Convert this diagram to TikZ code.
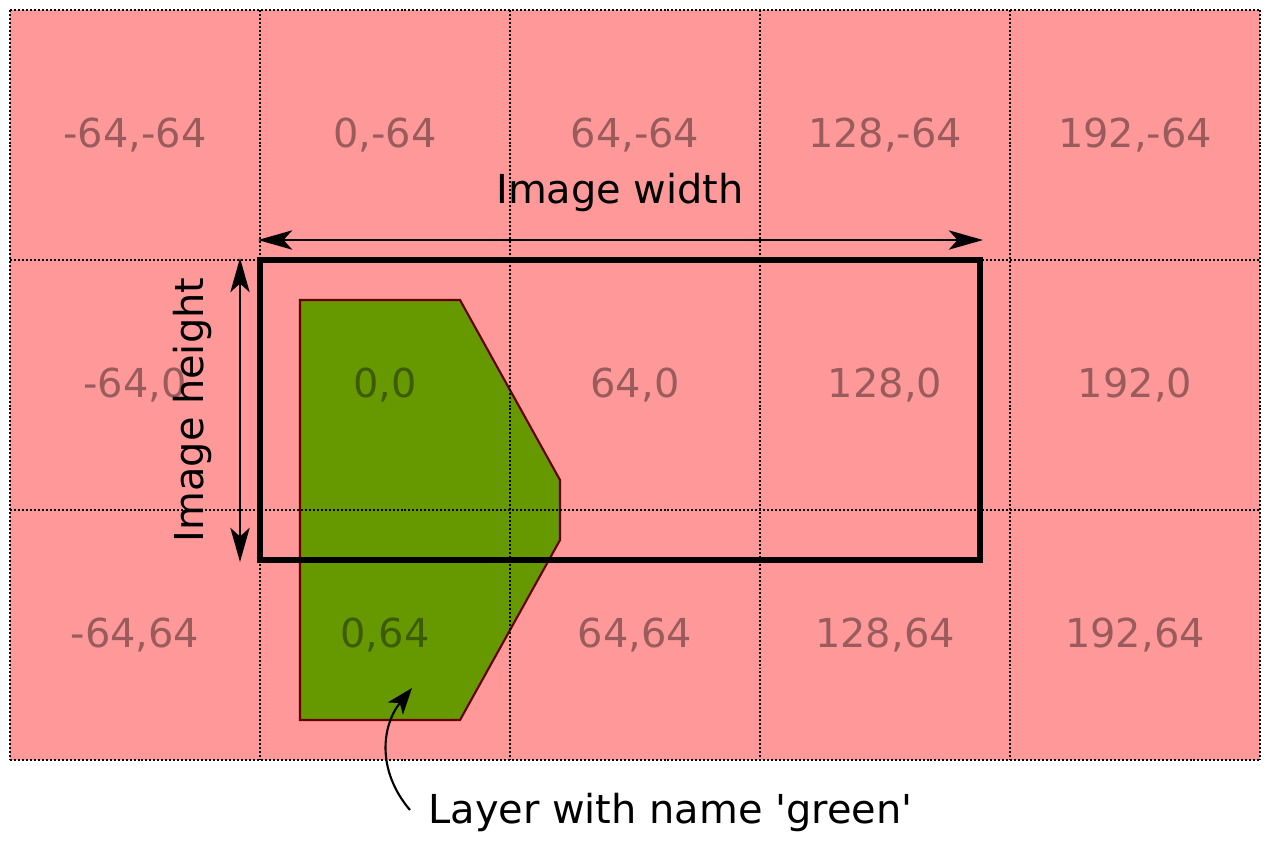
\documentclass[tikz,border=0pt]{standalone}
\usepackage{fontspec}
\setmainfont{DejaVu Sans}[Ligatures=TeXOff]
\usetikzlibrary{arrows.meta}
\definecolor{cellpink}{HTML}{FF9999}
\definecolor{layergreen}{HTML}{669900}
\definecolor{layerstroke}{HTML}{660000}
\begin{document}
\begin{tikzpicture}[x=0.02cm,y=-0.02cm,
  gridline/.style={line width=1.1pt*0.567,dash pattern=on 1.134pt off 1.134pt,black},
  celllabel/.style={anchor=base,inner sep=0pt,text=black,text opacity=0.4,font=\fontsize{22.7}{27}\selectfont},
  biglabel/.style={inner sep=0pt,text=black,font=\fontsize{22.7}{27}\selectfont},
  dimarrow/.style={line width=1.3pt,{Stealth[length=19.5pt,width=11pt,inset=5pt]}-{Stealth[length=19.5pt,width=11pt,inset=5pt]}},
  pointer/.style={line width=1.2pt,-{Stealth[length=15pt,width=11pt,inset=4pt]}}]
\useasboundingbox (0,0) rectangle (1270,850);
% pink background
\fill[cellpink] (10,10) rectangle (1260,760);
% green layer
\draw[fill=layergreen,draw=layerstroke,line width=1.2pt] (300,300) -- (460,300) -- (560,480) -- (560,540) -- (460,720) -- (300,720) -- cycle;
% grid
\foreach \x in {10,260,510,760,1010,1260} \draw[gridline] (\x,10) -- (\x,760);
\foreach \y in {10,260,510,760} \draw[gridline] (10,\y) -- (1260,\y);
% labels
\foreach \cx/\lx [count=\i] in {135/-64,385/0,635/64,885/128,1135/192}{
  \foreach \cy/\ly [count=\j] in {135/-64,385/0,635/64}{
    \node[celllabel] (lab\i\j) at (\cx,\cy+12) {\lx,\ly};
  }
}
% image rect
\draw[line width=3.8pt] (260,260) rectangle (980,560);
% dimension arrows
\coordinate (wl) at (258,240);
\coordinate (wr) at (983,240);
\coordinate (ht) at (240,258);
\coordinate (hb) at (240,562);
\draw[dimarrow] (wl) -- (wr);
\draw[dimarrow] (ht) -- (hb);
\node[biglabel,anchor=base] (wlabel) at (620,203) {Image width};
\node[biglabel,anchor=base,rotate=90] (hlabel) at (203,410) {Image height};
% pointer
\node[biglabel,anchor=base west] (green) at (428,823) {Layer with name 'green'};
\coordinate (pstart) at (410,810);
\coordinate (ptip) at (412,688);
\draw[pointer] (pstart) .. controls (376,770) and (382,725) .. (ptip);
\end{tikzpicture}
\end{document}
